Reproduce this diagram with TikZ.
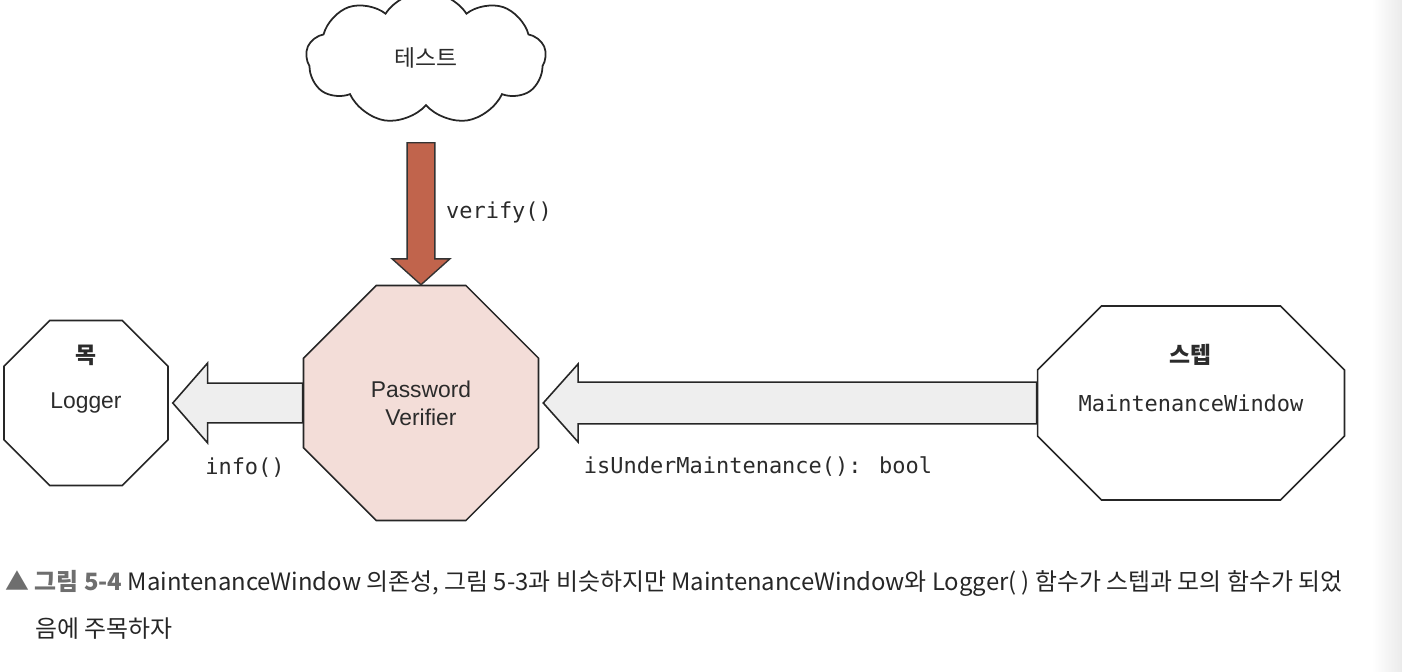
\documentclass[tikz,border=0pt]{standalone}
\usepackage{fontspec}
\setmainfont{Liberation Sans}
\newfontfamily\krfont{Noto Sans CJK KR}
\newfontfamily\codefont{DejaVu Sans Mono}
\usepackage{tikz}
\usetikzlibrary{shapes.misc,shapes.symbols,calc,positioning}

\definecolor{verifyred}{HTML}{C1644C}
\definecolor{pvpink}{HTML}{F3DDD8}
\definecolor{callgray}{HTML}{EEEEEE}
\definecolor{inkgray}{HTML}{2B2B2B}
\definecolor{capgray}{HTML}{6E6E6E}
\definecolor{captext}{HTML}{262626}

% fat outlined arrow: style, from, tip, shaft half width, head half width, head length
\newcommand{\fatarrow}[6]{%
  \coordinate (fa-s) at (#2);
  \coordinate (fa-t) at (#3);
  \coordinate (fa-b) at ($(fa-t)!#6!(fa-s)$);
  \draw[#1] ($(fa-s)!#4!90:(fa-t)$) -- ($(fa-b)!#4!90:(fa-t)$) -- ($(fa-b)!#5!90:(fa-t)$)
    -- (fa-t) -- ($(fa-b)!#5!-90:(fa-t)$) -- ($(fa-b)!#4!-90:(fa-t)$) -- ($(fa-s)!#4!-90:(fa-t)$) -- cycle;
}

\begin{document}
\begin{tikzpicture}[x=0.02cm, y=-0.02cm,
  octa/.style={chamfered rectangle, draw=black!85, line width=0.9pt, inner sep=0pt, align=center, text=inkgray, font=\fontsize{13}{16}\selectfont},
  kindlbl/.style={font=\krfont\bfseries\fontsize{13}{15}\selectfont, text=inkgray},
  codelbl/.style={font=\codefont\fontsize{12.5}{14}\selectfont, text=inkgray},
  callarr/.style={draw=black!85, fill=callgray, line width=0.9pt},
  testarr/.style={draw=black!80, fill=verifyred, line width=0.8pt},
  capline/.style={anchor=base west, inner sep=0pt, text=captext, font=\krfont\fontsize{13.6}{16}\selectfont}
]
  \useasboundingbox (0,0) rectangle (1402,672);
  \shade[left color=white, right color=black!8] (1372,0) rectangle (1402,672);

  \node[cloud, draw=black!85, line width=1pt, cloud puffs=9, cloud puff arc=115, aspect=2,
    minimum width=4.8cm, minimum height=2.66cm, inner sep=0pt, text=inkgray,
    font=\krfont\fontsize{13}{15}\selectfont] (test) at (426,58) {테스트};

  \node[octa, fill=pvpink, minimum width=4.7cm, minimum height=4.7cm,
    chamfered rectangle xsep=1.36cm, chamfered rectangle ysep=1.36cm] (pv) at (421,403) {Password\\Verifier};
  \node[octa, minimum width=3.28cm, minimum height=3.3cm,
    chamfered rectangle xsep=0.94cm, chamfered rectangle ysep=0.94cm] (logger) at (86,403) {Logger};
  \node[octa, minimum width=6.14cm, minimum height=3.88cm, font=\codefont\fontsize{12.5}{14}\selectfont,
    chamfered rectangle xsep=1.77cm, chamfered rectangle ysep=1.11cm] (mw) at (1191,403) {MaintenanceWindow};

  \node[kindlbl] (mock) at (86,355) {목};
  \node[kindlbl] (stub) at (1190,355) {스텝};

  \fatarrow{testarr}{$(pv.north)+(0,-142)$}{pv.north}{7.9pt}{16.4pt}{14.7pt}
  \fatarrow{callarr}{pv.west}{$(logger.east)+(4,0)$}{11.3pt}{22.7pt}{19.8pt}
  \fatarrow{callarr}{mw.west}{$(pv.east)+(4,0)$}{11.9pt}{22.2pt}{19.8pt}

  \node[codelbl] (verifylbl) at (499,212) {verify()};
  \node[codelbl] (infolbl) at (245,468) {info()};
  \node[codelbl] (undermlbl) at (758,467) {isUnderMaintenance(): bool};

  \node[capline] (cap1) at (5,590) {{\color{capgray}\bfseries ▲ 그림 5-4} MaintenanceWindow 의존성, 그림 5-3과 비슷하지만 MaintenanceWindow와 Logger( ) 함수가 스텝과 모의 함수가 되었};
  \node[capline] (cap2) at (35,637) {음에 주목하자};
\end{tikzpicture}
\end{document}
